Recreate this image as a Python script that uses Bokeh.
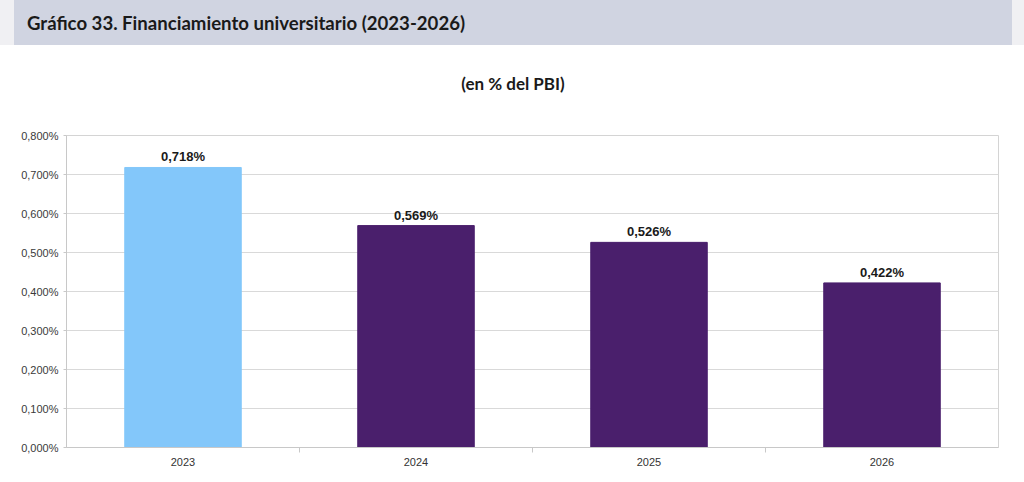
from bokeh.plotting import figure
from bokeh.models import (ColumnDataSource, FixedTicker, CustomJSTickFormatter,
                          Range1d, Div, LabelSet)
from bokeh.core.properties import value
from bokeh.layouts import column
from bokeh.embed import file_html
from bokeh.resources import INLINE

# ---- data ----
years = ["2023", "2024", "2025", "2026"]
values = [0.718, 0.569, 0.526, 0.422]
bar_colors = ["#83c7fa", "#4a1f6c", "#4a1f6c", "#4a1f6c"]
value_labels = ["0,718%", "0,569%", "0,526%", "0,422%"]
y_ticks = [0.0, 0.1, 0.2, 0.3, 0.4, 0.5, 0.6, 0.7, 0.8]

title_text = "Gráfico 33. Financiamiento universitario (2023-2026)"
subtitle_text = "(en % del PBI)"

# ---- header (title band + subtitle) ----
header_html = f"""
<div style="position:relative;width:1024px;height:110px;background:#ffffff;">
  <div style="position:absolute;left:0;top:0;width:14px;height:45px;background:#f0f0f3;"></div>
  <div style="position:absolute;left:14px;top:0;width:998px;height:45px;background:#d0d4e1;"></div>
  <div style="position:absolute;left:1012px;top:0;width:12px;height:45px;background:#f0f0f3;"></div>
  <div style="position:absolute;left:27px;top:11px;line-height:24px;font-family:Lato;font-weight:bold;font-size:18.6px;color:#1a1a1a;white-space:nowrap;">{title_text}</div>
  <div style="position:absolute;left:0;top:73px;width:1026px;text-align:center;line-height:22px;font-family:Lato;font-weight:bold;font-size:17px;color:#1a1a1a;white-space:nowrap;">{subtitle_text}</div>
</div>
"""
header = Div(text=header_html, width=1024, height=110, margin=0)

footer_html = """
<div style="position:relative;width:1024px;height:4px;background:#ffffff;">
  <div style="position:absolute;left:0;top:0;width:14px;height:4px;background:#f0f0f3;"></div>
  <div style="position:absolute;left:14px;top:0;width:998px;height:4px;background:#d6d8e4;"></div>
</div>
"""
footer = Div(text=footer_html, width=1024, height=4, margin=0)

# ---- chart ----
xs = [i + 0.5 for i in range(len(years))]
source = ColumnDataSource(dict(x=xs, top=values, color=bar_colors, label=value_labels))

p = figure(width=1024, height=368, output_backend="svg", toolbar_location=None,
           x_range=Range1d(0, len(years)), y_range=Range1d(0, 0.8),
           min_border_left=66, min_border_right=26, min_border_top=25,
           min_border_bottom=31, background_fill_color="white",
           border_fill_color="white", margin=0)
p.outline_line_color = "#d4d4d4"
p.outline_line_width = 1

p.vbar(x="x", top="top", width=0.5, bottom=0, color="color", source=source)

labels = LabelSet(x="x", y="top", text="label", source=source,
                  text_align="center", text_baseline="bottom", y_offset=3,
                  text_font=value("Liberation Sans"), text_font_style="bold",
                  text_font_size="13px", text_color="#1a1a1a")
p.add_layout(labels)

# y axis
p.yaxis.ticker = FixedTicker(ticks=y_ticks)
p.yaxis.formatter = CustomJSTickFormatter(
    code="return tick.toFixed(3).replace('.', ',') + '%';")
p.yaxis.axis_line_color = "#c8c8c8"
p.yaxis.major_tick_line_color = "#c8c8c8"
p.yaxis.major_tick_out = 3
p.yaxis.major_tick_in = 0
p.yaxis.minor_tick_line_color = None
p.yaxis.major_label_text_font = "Liberation Sans"
p.yaxis.major_label_text_font_size = "11px"
p.yaxis.major_label_text_color = "#3a3a3a"
p.yaxis.major_label_standoff = 5

# x axis
p.xaxis.ticker = FixedTicker(ticks=xs, minor_ticks=[1, 2, 3])
p.xaxis.formatter = CustomJSTickFormatter(
    args=dict(labels=years), code="return labels[Math.round(tick - 0.5)];")
p.xaxis.axis_line_color = "#c8c8c8"
p.xaxis.major_tick_line_color = None
p.xaxis.minor_tick_line_color = "#c8c8c8"
p.xaxis.minor_tick_out = 5
p.xaxis.minor_tick_in = 0
p.xaxis.major_label_text_font = "Liberation Sans"
p.xaxis.major_label_text_font_size = "11px"
p.xaxis.major_label_text_color = "#333333"
p.xaxis.major_label_standoff = 4

p.xgrid.grid_line_color = None
p.ygrid.ticker = FixedTicker(ticks=y_ticks)
p.ygrid.grid_line_color = "#d9d9d9"

layout = column(header, p, footer, spacing=0)

open("out.html", "w").write(file_html(layout, INLINE))
